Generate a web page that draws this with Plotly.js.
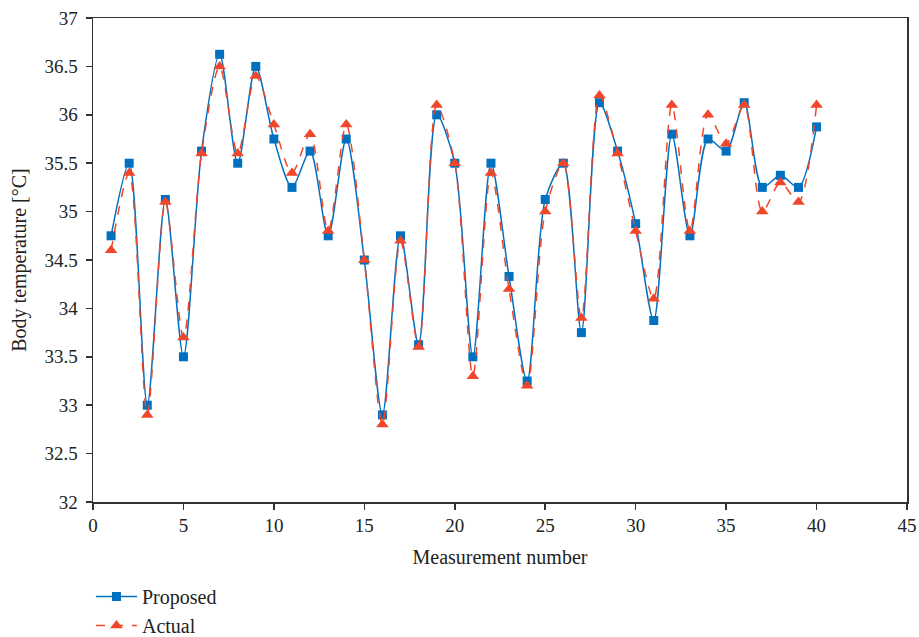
<!DOCTYPE html>
<html>
<head>
<meta charset="utf-8">
<script src="https://cdn.plot.ly/plotly-3.0.1.min.js"></script>
<style>html,body{margin:0;padding:0;background:#fff;}#chart{width:919px;height:637px;}</style>
</head>
<body>
<div id="chart"></div>
<script>
const measurement = [1,2,3,4,5,6,7,8,9,10,11,12,13,14,15,16,17,18,19,20,21,22,23,24,25,26,27,28,29,30,31,32,33,34,35,36,37,38,39,40];
const proposed = [34.75,35.5,33.0,35.125,33.5,35.625,36.625,35.5,36.5,35.75,35.25,35.625,34.75,35.75,34.5,32.9,34.75,33.625,36.0,35.5,33.5,35.5,34.33,33.25,35.125,35.5,33.75,36.125,35.625,34.875,33.875,35.8,34.75,35.75,35.625,36.125,35.25,35.375,35.25,35.875];
const actual = [34.6,35.4,32.9,35.1,33.7,35.6,36.5,35.6,36.4,35.9,35.4,35.8,34.8,35.9,34.5,32.8,34.7,33.6,36.1,35.5,33.3,35.4,34.2,33.2,35.0,35.5,33.9,36.2,35.6,34.8,34.1,36.1,34.8,36.0,35.7,36.1,35.0,35.3,35.1,36.1];
const xTicks = [0,5,10,15,20,25,30,35,40,45];
const yTicks = [32,32.5,33,33.5,34,34.5,35,35.5,36,36.5,37];

const font = "Liberation Serif, Times New Roman, serif";
const traces = [
  {x: measurement, y: proposed, name: 'Proposed', mode: 'lines+markers',
   line: {color: '#0070C0', width: 1.5, shape: 'spline', smoothing: 0.8},
   marker: {symbol: 'square', size: 9, color: '#0070C0'}},
  {x: measurement, y: actual, name: 'Actual', mode: 'lines+markers',
   line: {color: '#F0462A', width: 1.5, dash: 'dash', shape: 'spline', smoothing: 0.8},
   marker: {symbol: 'triangle-up', size: 11, color: '#F0462A'}}
];
const axisCommon = {showline: true, mirror: true, linecolor: '#333', linewidth: 1.5,
  ticks: 'outside', ticklen: 6, tickcolor: '#333', tickwidth: 1.5, showgrid: false, zeroline: false,
  tickfont: {family: font, size: 19, color: '#222'}};
const layout = {
  width: 919, height: 637,
  margin: {l: 93, r: 12, t: 18, b: 135, autoexpand: false},
  paper_bgcolor: '#fff', plot_bgcolor: '#fff',
  font: {family: font, color: '#222'},
  showlegend: true,
  legend: {x: -0.0025, xanchor: 'left', y: -0.155, yanchor: 'top', orientation: 'v', itemwidth: 41,
    font: {family: font, size: 20, color: '#222'}, bgcolor: 'rgba(0,0,0,0)'},
  xaxis: Object.assign({}, axisCommon, {range: [0, 45], tickvals: xTicks, ticktext: xTicks.map(String),
    title: {text: 'Measurement number', font: {family: font, size: 20, color: '#222'}, standoff: 14}}),
  yaxis: Object.assign({}, axisCommon, {range: [32, 37], tickvals: yTicks, ticktext: yTicks.map(String), ticklabelstandoff: 4,
    title: {text: 'Body temperature [°C]', font: {family: font, size: 20, color: '#222'}, standoff: 12}})
};
Plotly.newPlot('chart', traces, layout, {displayModeBar: false, staticPlot: true});
</script>
</body>
</html>
